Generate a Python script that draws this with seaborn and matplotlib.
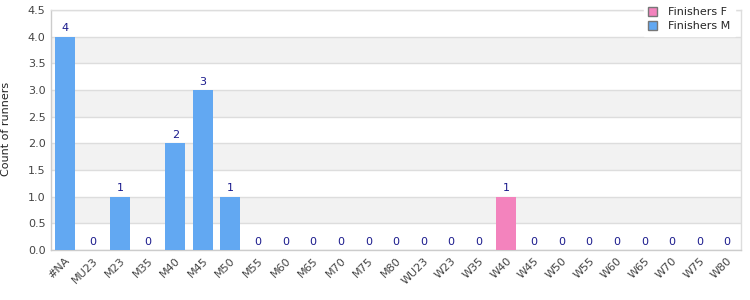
import matplotlib
matplotlib.use("Agg")
import matplotlib.pyplot as plt
import seaborn as sns
import pandas as pd
from matplotlib.patches import Patch

categories = ["#NA", "MU23", "M23", "M35", "M40", "M45", "M50", "M55", "M60", "M65",
              "M70", "M75", "M80", "WU23", "W23", "W35", "W40", "W45", "W50", "W55",
              "W60", "W65", "W70", "W75", "W80"]
series = ["Finishers M"] * 13 + ["Finishers F"] * 12
values = [4, 0, 1, 0, 2, 3, 1, 0, 0, 0, 0, 0, 0,
          0, 0, 0, 1, 0, 0, 0, 0, 0, 0, 0, 0]

colors = {"Finishers F": "#f383bd", "Finishers M": "#62a8f2"}

df = pd.DataFrame({"cat": categories, "series": series, "val": values})

sns.set_style("white")
plt.rcParams['font.family'] = ['DejaVu Sans']

fig = plt.figure(figsize=(7.5, 3), dpi=100)
ax = fig.add_axes([51/750, 50/300, 690/750, 240/300])

# alternating bands
for i in range(9):
    if i % 2 == 1:
        ax.axhspan(i * 0.5, (i + 1) * 0.5, color="#f2f2f2", zorder=0, lw=0)

sns.barplot(data=df, x="cat", y="val", hue="series", palette=colors,
            dodge=False, width=0.73, ax=ax, legend=False, zorder=3,
            saturation=1, linewidth=0,
            hue_order=["Finishers F", "Finishers M"])

ax.set_ylim(0, 4.5)
ax.set_xlim(-0.5, len(categories) - 0.5)
ax.set_yticks([i * 0.5 for i in range(10)])
ax.set_yticklabels([f"{i*0.5:.1f}" for i in range(10)], fontsize=8, color="#444444")
ax.yaxis.grid(True, color="#dddddd", lw=1, zorder=1)
ax.set_axisbelow(True)
ax.tick_params(axis="both", length=0, pad=4)
ax.set_xticks(range(len(categories)))
ax.set_xticklabels(categories, rotation=45, ha="right", rotation_mode="anchor",
                   fontsize=8, color="#444444")
ax.set_xlabel("")
ax.set_ylabel("")
fig.text(6/750, 0.57, "Count of runners", rotation=90, ha="center", va="center",
         fontsize=8, color="#222222")
for s in ax.spines.values():
    s.set_color("#dddddd")
    s.set_linewidth(1)
ax.spines["bottom"].set_color("#cccccc")
ax.spines["left"].set_color("#cccccc")

for i, v in enumerate(values):
    ax.text(i, v + 0.06, str(v), ha="center", va="bottom", fontsize=8,
            color="#1a1a8c", zorder=5)

handles = [Patch(facecolor=colors["Finishers F"], edgecolor="#777777", label="Finishers F"),
           Patch(facecolor=colors["Finishers M"], edgecolor="#777777", label="Finishers M")]
leg = fig.legend(handles=handles, loc="upper left", bbox_to_anchor=(638/750, 1.01),
                 frameon=True, fontsize=8, handlelength=0.8, handleheight=0.8,
                 handletextpad=1.0, labelspacing=0.35, borderpad=0.4)
leg.get_frame().set_edgecolor("white")
leg.get_frame().set_facecolor("white")
leg.get_frame().set_alpha(1)
leg.get_frame().set_boxstyle("square", pad=0)

fig.savefig("out.png", dpi=100)
